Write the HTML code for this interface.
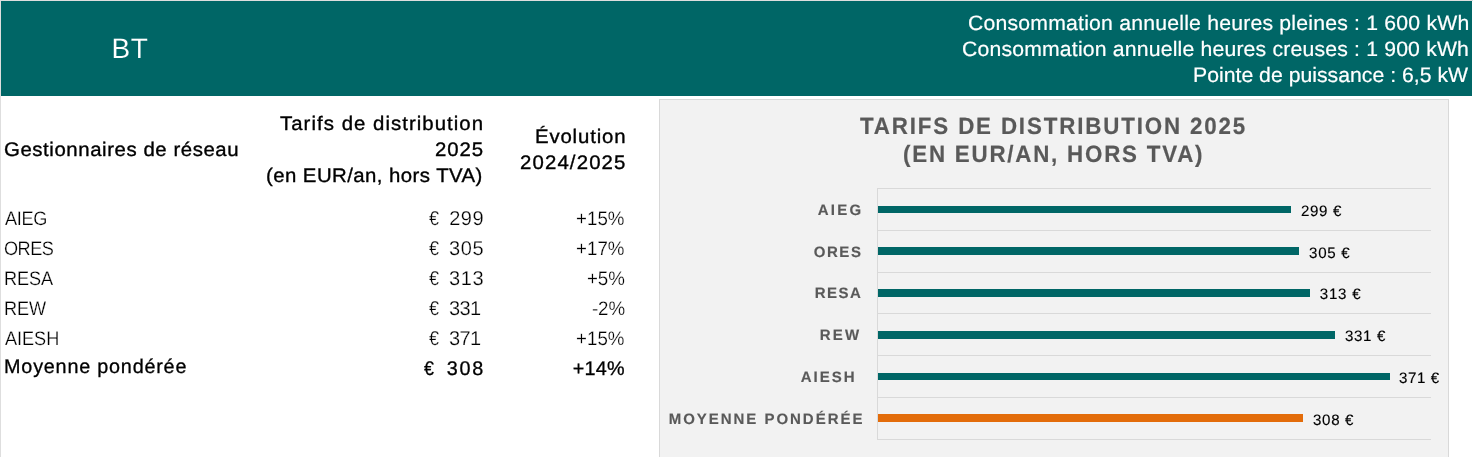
<!DOCTYPE html>
<html lang="fr">
<head>
<meta charset="utf-8">
<title>Tarifs de distribution 2025</title>
<style>
html,body{margin:0;padding:0}
body{width:1473px;height:457px;position:relative;overflow:hidden;background:#fff;font-family:"Liberation Sans",sans-serif;text-rendering:geometricPrecision}
.edge-t{position:absolute;left:0;top:0;width:1473px;height:1px;background:#dedede}
.edge-l{position:absolute;left:0;top:0;width:1px;height:96px;background:#dedede}
.edge-l2{position:absolute;left:0;top:96px;width:1px;height:361px;background:#dedede}
.corner{position:absolute;left:0;top:0;width:1px;height:1px;background:#dedede}
.band{position:absolute;left:1px;top:1px;width:1471px;height:95px;background:#006666}
.chart{position:absolute;left:659px;top:99px;width:790px;height:360px;box-sizing:border-box;background:#f2f2f2;border:1px solid #d9d9d9}
svg{position:absolute;left:0;top:0}
.t{position:absolute;white-space:pre;line-height:1;color:#000;margin:0;transform-origin:0 0}
.bt{color:#fff;-webkit-text-stroke:0.15px #006666}
.hw{color:#fff;-webkit-text-stroke:0.2px #fff}
.hd{-webkit-text-stroke:0.35px #000}
.lt{-webkit-text-stroke:0.25px #fff}
.md{-webkit-text-stroke:0.3px #000}
.ct{color:#595959;font-weight:bold;-webkit-text-stroke:0.2px #595959}
.cl{color:#595959;font-weight:bold;-webkit-text-stroke:0.15px #595959}
.dl{color:#000;-webkit-text-stroke:0.15px #000}
</style>
</head>
<body>
<div class="edge-t"></div><div class="edge-l"></div><div class="edge-l2"></div><div class="corner"></div>
<div class="band"></div>
<div class="chart"></div>
<svg width="1473" height="457" viewBox="0 0 1473 457">
<line x1="877.0" y1="188.50" x2="1431" y2="188.50" stroke="#d9d9d9" stroke-width="1"/>
<line x1="877.0" y1="230.50" x2="1431" y2="230.50" stroke="#d9d9d9" stroke-width="1"/>
<line x1="877.0" y1="272.50" x2="1431" y2="272.50" stroke="#d9d9d9" stroke-width="1"/>
<line x1="877.0" y1="313.50" x2="1431" y2="313.50" stroke="#d9d9d9" stroke-width="1"/>
<line x1="877.0" y1="355.50" x2="1431" y2="355.50" stroke="#d9d9d9" stroke-width="1"/>
<line x1="877.0" y1="397.50" x2="1431" y2="397.50" stroke="#d9d9d9" stroke-width="1"/>
<line x1="877.0" y1="439.50" x2="1431" y2="439.50" stroke="#d9d9d9" stroke-width="1"/>
<line x1="877.5" y1="188.00" x2="877.5" y2="440.00" stroke="#d9d9d9" stroke-width="1"/>
<rect x="878" y="206" width="413" height="7" fill="#006666"/>
<rect x="878" y="247" width="421" height="8" fill="#006666"/>
<rect x="878" y="289" width="432" height="8" fill="#006666"/>
<rect x="878" y="331" width="457" height="8" fill="#006666"/>
<rect x="878" y="373" width="512" height="7" fill="#006666"/>
<rect x="878" y="414" width="425" height="8" fill="#e36c0a"/>
</svg>
<header>
<div class="t bt" style="left:111.56px;top:35px;font-size:28px;letter-spacing:0.49px">BT</div>
<div class="t hw" style="left:967.89px;top:14px;font-size:20.8px;letter-spacing:0.2px;transform:scaleX(1.02)">Consommation annuelle heures pleines : 1 600 kWh</div>
<div class="t hw" style="left:961.89px;top:40px;font-size:20.8px;letter-spacing:0.17px;transform:scaleX(1.02)">Consommation annuelle heures creuses : 1 900 kWh</div>
<div class="t hw" style="left:1192.62px;top:66px;font-size:20.8px;letter-spacing:0.01px;transform:scaleX(1.02)">Pointe de puissance : 6,5 kW</div>
</header>
<section class="tbl">
<div class="t hd" style="left:4.03px;top:141px;font-size:19.6px;letter-spacing:0.55px;transform:scaleX(1.04)">Gestionnaires de réseau</div>
<div class="t hd" style="left:280.45px;top:115px;font-size:19.6px;letter-spacing:1px;transform:scaleX(1.04)">Tarifs de distribution</div>
<div class="t hd" style="left:434.96px;top:141px;font-size:19.6px;letter-spacing:0.9px;transform:scaleX(1.04)">2025</div>
<div class="t hd" style="left:266.3px;top:167px;font-size:19.6px;letter-spacing:0.42px;transform:scaleX(1.04)">(en EUR/an, hors TVA)</div>
<div class="t hd" style="left:535.09px;top:128px;font-size:19.6px;letter-spacing:0.8px;transform:scaleX(1.04)">Évolution</div>
<div class="t hd" style="left:519.86px;top:154px;font-size:19.6px;letter-spacing:1.09px;transform:scaleX(1.04)">2024/2025</div>
<div class="t lt" style="left:4.78px;top:210px;font-size:19.5px;letter-spacing:-0.32px;transform:scaleX(0.93)">AIEG</div>
<div class="t lt" style="left:4.19px;top:240px;font-size:19.5px;letter-spacing:-0.52px;transform:scaleX(0.93)">ORES</div>
<div class="t lt" style="left:3.56px;top:270px;font-size:19.5px;letter-spacing:-0.1px;transform:scaleX(0.93)">RESA</div>
<div class="t lt" style="left:3.56px;top:300px;font-size:19.5px;letter-spacing:-0.11px;transform:scaleX(0.93)">REW</div>
<div class="t lt" style="left:4.78px;top:330px;font-size:19.5px;letter-spacing:-0.04px;transform:scaleX(0.93)">AIESH</div>
<div class="t md" style="left:4.09px;top:358px;font-size:19.8px;letter-spacing:0.79px">Moyenne pondérée</div>
<div class="t lt" style="left:429.18px;top:209px;font-size:20px;transform:scaleX(0.9)">€</div>
<div class="t lt" style="left:449.23px;top:209px;font-size:20px;letter-spacing:0.5px">299</div>
<div class="t lt" style="left:429.18px;top:239px;font-size:20px;transform:scaleX(0.9)">€</div>
<div class="t lt" style="left:449.06px;top:239px;font-size:20px;letter-spacing:0.55px">305</div>
<div class="t lt" style="left:429.18px;top:269px;font-size:20px;transform:scaleX(0.9)">€</div>
<div class="t lt" style="left:449.06px;top:269px;font-size:20px;letter-spacing:0.6px">313</div>
<div class="t lt" style="left:429.18px;top:299px;font-size:20px;transform:scaleX(0.9)">€</div>
<div class="t lt" style="left:449.06px;top:299px;font-size:20px;letter-spacing:-0.7px">331</div>
<div class="t lt" style="left:429.18px;top:329px;font-size:20px;transform:scaleX(0.9)">€</div>
<div class="t lt" style="left:449.06px;top:329px;font-size:20px;letter-spacing:-0.7px">371</div>
<div class="t md" style="left:423.57px;top:360px;font-size:19.8px;transform:scaleX(0.9)">€</div>
<div class="t md" style="left:446.73px;top:360px;font-size:19.8px;letter-spacing:1.77px">308</div>
<div class="t lt" style="left:576.35px;top:210px;font-size:19.5px;letter-spacing:0.03px;transform:scaleX(0.96)">+15%</div>
<div class="t lt" style="left:576.35px;top:240px;font-size:19.5px;letter-spacing:0.03px;transform:scaleX(0.96)">+17%</div>
<div class="t lt" style="left:587.25px;top:270px;font-size:19.5px;letter-spacing:-0.09px;transform:scaleX(0.96)">+5%</div>
<div class="t lt" style="left:591.83px;top:300px;font-size:19.5px;letter-spacing:-0.14px;transform:scaleX(0.96)">-2%</div>
<div class="t lt" style="left:576.35px;top:330px;font-size:19.5px;letter-spacing:0.03px;transform:scaleX(0.96)">+15%</div>
<div class="t md" style="left:572.71px;top:360px;font-size:19.8px;letter-spacing:0.27px">+14%</div>
</section>
<section class="cht">
<div class="t ct" style="left:860.18px;top:115px;font-size:23.5px;letter-spacing:1.95px;transform:scaleX(0.95)">TARIFS DE DISTRIBUTION 2025</div>
<div class="t ct" style="left:903.28px;top:143px;font-size:23.5px;letter-spacing:1.88px;transform:scaleX(0.95)">(EN EUR/AN, HORS TVA)</div>
<div class="t cl" style="left:817.84px;top:203px;font-size:15px;letter-spacing:2.2px">AIEG</div>
<div class="t cl" style="left:813.64px;top:245px;font-size:15px;letter-spacing:1.62px">ORES</div>
<div class="t cl" style="left:814.8px;top:286px;font-size:15px;letter-spacing:1.43px">RESA</div>
<div class="t cl" style="left:819.7px;top:328px;font-size:15px;letter-spacing:2.3px">REW</div>
<div class="t cl" style="left:800.64px;top:370px;font-size:15px;letter-spacing:2.03px">AIESH</div>
<div class="t cl" style="left:668.7px;top:412px;font-size:15px;letter-spacing:1.97px">MOYENNE PONDÉRÉE</div>
<div class="t dl" style="left:1300.95px;top:204px;font-size:15.1px;letter-spacing:0.65px">299 €</div>
<div class="t dl" style="left:1309.09px;top:246px;font-size:15.1px;letter-spacing:0.68px">305 €</div>
<div class="t dl" style="left:1319.79px;top:287px;font-size:15.1px;letter-spacing:0.77px">313 €</div>
<div class="t dl" style="left:1345.09px;top:329px;font-size:15.1px;letter-spacing:0.61px">331 €</div>
<div class="t dl" style="left:1398.89px;top:371px;font-size:15.1px;letter-spacing:0.65px">371 €</div>
<div class="t dl" style="left:1313.09px;top:413px;font-size:15.1px;letter-spacing:0.65px">308 €</div>
</section>
</body>
</html>
